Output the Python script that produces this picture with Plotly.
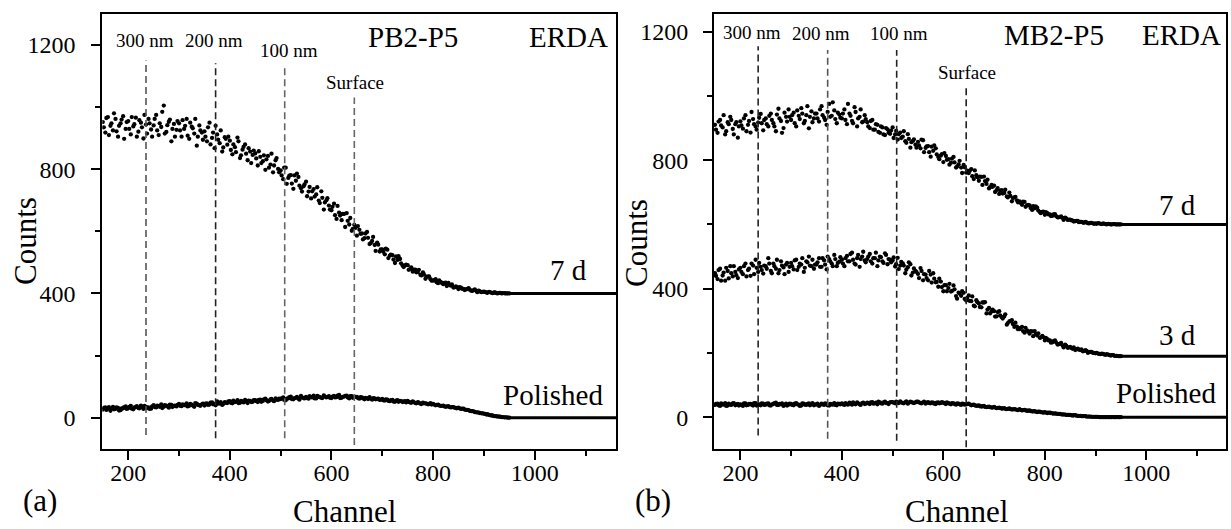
import plotly.graph_objects as go

# ---------------- data ----------------
CHANNEL = list(range(150, 951, 5))          # channels, first scan of samples
CHANNEL_2 = list(range(152, 950, 5))        # channels, second scan of samples
TAIL_A = [950, 1160]                        # flat tail, panel (a)
TAIL_B = [950, 1157]                        # flat tail, panel (b)
X_TICKS = [200, 400, 600, 800, 1000]
Y_TICKS = [0, 400, 800, 1200]

A_7D = [952, 918, 968, 940, 925, 962, 905, 948, 971, 930,
        955, 912, 938, 966, 921, 950, 899, 944, 962, 928,
        941, 975, 910, 936, 1005, 920, 953, 890, 946, 927,
        948, 905, 930, 962, 898, 937, 915, 876, 941, 918,
        922, 890, 950, 901, 868, 912, 884, 857, 903, 879,
        892, 848, 871, 902, 836, 863, 880, 829, 857, 846,
        851, 812, 840, 826, 798, 843, 815, 790, 829, 801,
        796, 768, 805, 772, 781, 737, 763, 775, 739, 745,
        760, 728, 706, 736, 719, 699, 729, 670, 700, 683,
        668, 689, 640, 660, 636, 656, 659, 622, 602, 621,
        586, 605, 593, 578, 598, 559, 569, 556, 564, 535,
        542, 526, 541, 522, 523, 498, 508, 511, 490, 490,
        491, 479, 470, 477, 469, 460, 468, 447, 454, 446,
        441, 446, 433, 437, 430, 435, 434, 425, 419, 423,
        414, 419, 415, 413, 417, 409, 411, 409, 409, 404,
        406, 403, 405, 402, 403, 401, 402, 400, 401, 400, 400]
A_7D_2 = [935, 965, 910, 948, 980, 922, 940, 960, 898, 952,
          930, 968, 945, 905, 958, 935, 975, 915, 948, 905,
          962, 925, 948, 985, 915, 942, 960, 930, 905, 955,
          925, 958, 940, 908, 950, 932, 962, 905, 925, 895,
          905, 935, 880, 918, 940, 895, 925, 870, 898, 905,
          862, 880, 855, 890, 845, 872, 850, 868, 820, 860,
          835, 858, 820, 845, 832, 805, 850, 812, 836, 790,
          780, 805, 753, 779, 754, 780, 786, 747, 728, 751,
          713, 743, 729, 712, 742, 691, 708, 693, 707, 670,
          679, 652, 682, 651, 656, 614, 634, 643, 608, 611,
          617, 592, 574, 593, 579, 562, 582, 537, 557, 542,
          534, 544, 514, 525, 509, 519, 520, 497, 485, 493,
          476, 484, 477, 468, 476, 458, 461, 454, 455, 441,
          443, 436, 442, 434, 434, 424, 428, 429, 420, 420,
          420, 415, 411, 415, 412, 408, 413, 404, 407, 405,
          405, 402, 404, 401, 403, 400, 402, 401, 400, 400]
A_7D_TAIL = [400, 400]

A_POL = [26, 33, 29, 22, 35, 28, 31, 24, 30, 36,
         30, 38, 27, 34, 31, 39, 28, 35, 33, 29,
         40, 33, 37, 43, 35, 39, 32, 41, 38, 36,
         44, 37, 41, 46, 38, 42, 35, 45, 40, 43,
         39, 46, 42, 49, 44, 52, 45, 41, 50, 47,
         53, 46, 50, 56, 48, 52, 57, 47, 54, 51,
         56, 50, 58, 54, 61, 52, 59, 55, 62, 57,
         60, 65, 56, 62, 68, 59, 64, 61, 70, 63,
         67, 61, 66, 71, 62, 68, 64, 72, 65, 69,
         63, 70, 66, 73, 64, 68, 71, 62, 69, 66,
         67, 61, 65, 59, 63, 66, 58, 62, 60, 57,
         60, 55, 58, 53, 57, 51, 56, 54, 50, 53,
         54, 49, 52, 47, 50, 45, 48, 46, 43, 47,
         44, 40, 42, 38, 39, 35, 37, 33, 34, 31,
         32, 28, 29, 25, 24, 21, 20, 17, 16, 14,
         13, 10, 9, 7, 5, 4, 3, 2, 1, 1, 0]
A_POL_2 = [31, 25, 34, 29, 27, 33, 23, 30, 34, 28,
           35, 29, 33, 37, 30, 34, 38, 31, 28, 36,
           34, 39, 35, 31, 40, 36, 42, 34, 39, 41,
           38, 43, 40, 36, 44, 39, 47, 41, 38, 45,
           45, 41, 48, 43, 40, 46, 50, 44, 48, 52,
           48, 55, 51, 47, 54, 49, 52, 55, 50, 56,
           53, 57, 51, 59, 56, 54, 60, 53, 58, 61,
           62, 57, 61, 66, 60, 63, 67, 58, 65, 62,
           63, 69, 65, 62, 70, 66, 63, 68, 67, 64,
           68, 65, 71, 63, 67, 70, 65, 69, 64, 67,
           63, 66, 62, 64, 60, 61, 63, 59, 61, 58,
           56, 59, 54, 56, 52, 55, 51, 53, 52, 49,
           51, 48, 50, 46, 48, 44, 46, 45, 44, 42,
           42, 41, 39, 38, 36, 36, 34, 34, 32, 30,
           30, 29, 26, 25, 22, 21, 18, 17, 15, 14,
           12, 11, 8, 7, 5, 4, 3, 2, 1, 0]
A_POL_TAIL = [0, 0]

B_7D = [910, 885, 925, 902, 880, 918, 935, 897, 912, 870,
        921, 898, 940, 910, 886, 928, 905, 917, 944, 893,
        930, 905, 945, 915, 890, 960, 922, 900, 935, 958,
        925, 948, 905, 938, 962, 915, 940, 899, 952, 930,
        945, 920, 968, 932, 910, 975, 938, 955, 915, 942,
        930, 958, 912, 945, 922, 965, 905, 935, 918, 940,
        918, 900, 925, 895, 910, 885, 902, 878, 896, 882,
        902, 880, 864, 886, 873, 859, 881, 839, 860, 848,
        857, 837, 862, 838, 844, 811, 829, 837, 810, 814,
        794, 813, 803, 792, 810, 777, 787, 777, 785, 761,
        760, 772, 741, 753, 736, 748, 749, 726, 712, 723,
        721, 707, 695, 707, 698, 687, 699, 672, 684, 675,
        672, 661, 670, 659, 659, 645, 650, 652, 639, 639,
        630, 635, 631, 627, 632, 622, 623, 620, 621, 614,
        615, 612, 610, 611, 608, 606, 608, 604, 605, 603,
        603, 604, 602, 603, 601, 602, 600, 601, 600, 600, 600]
B_7D_2 = [895, 920, 908, 940, 890, 912, 925, 880, 918, 905,
          908, 930, 890, 922, 950, 912, 895, 932, 915, 925,
          912, 938, 925, 905, 942, 930, 885, 948, 920, 935,
          940, 915, 955, 928, 945, 922, 968, 935, 918, 945,
          930, 958, 940, 925, 950, 935, 980, 928, 948, 932,
          945, 925, 975, 938, 915, 950, 930, 958, 920, 928,
          905, 922, 895, 912, 888, 905, 880, 900, 885, 892,
          869, 891, 881, 869, 890, 854, 866, 856, 865, 839,
          846, 864, 825, 843, 825, 842, 846, 818, 803, 819,
          822, 801, 786, 805, 793, 780, 798, 760, 778, 767,
          767, 750, 768, 747, 749, 723, 735, 739, 716, 717,
          701, 713, 705, 696, 708, 684, 689, 682, 686, 669,
          667, 671, 655, 661, 651, 657, 656, 643, 635, 640,
          638, 631, 626, 631, 626, 622, 625, 614, 619, 615,
          613, 609, 611, 607, 608, 605, 606, 603, 605, 602,
          602, 603, 601, 602, 600, 601, 600, 601, 600, 600]
B_7D_TAIL = [600, 600]

B_3D = [448, 430, 462, 441, 425, 455, 470, 438, 452, 433,
        465, 445, 478, 458, 440, 472, 490, 452, 468, 447,
        470, 495, 455, 478, 462, 448, 485, 466, 475, 452,
        480, 460, 490, 468, 475, 452, 485, 500, 470, 462,
        475, 495, 468, 488, 460, 492, 478, 505, 470, 484,
        490, 470, 502, 485, 512, 478, 495, 468, 500, 488,
        492, 508, 478, 495, 470, 500, 485, 510, 476, 490,
        488, 469, 496, 472, 479, 448, 467, 476, 450, 455,
        446, 464, 426, 444, 426, 444, 448, 420, 406, 422,
        392, 411, 402, 391, 410, 377, 388, 378, 387, 363,
        379, 361, 347, 364, 354, 342, 357, 323, 340, 329,
        330, 314, 330, 311, 313, 288, 298, 302, 281, 282,
        274, 281, 263, 270, 260, 267, 268, 254, 247, 253,
        239, 243, 239, 233, 239, 226, 228, 223, 226, 216,
        219, 213, 209, 213, 209, 205, 209, 200, 203, 200,
        199, 198, 196, 197, 194, 195, 192, 193, 191, 190, 190]
B_3D_2 = [440, 458, 425, 450, 465, 432, 448, 470, 442, 460,
          452, 470, 438, 462, 478, 445, 465, 480, 458, 472,
          462, 478, 448, 470, 490, 458, 472, 445, 480, 468,
          470, 488, 458, 478, 495, 465, 482, 472, 490, 475,
          482, 468, 495, 475, 500, 485, 470, 492, 480, 498,
          478, 495, 485, 508, 490, 475, 505, 492, 515, 482,
          500, 485, 495, 512, 488, 498, 480, 505, 492, 482,
          497, 476, 461, 483, 472, 459, 482, 441, 463, 452,
          433, 455, 445, 433, 455, 419, 431, 421, 431, 405,
          411, 392, 415, 393, 398, 369, 385, 392, 368, 371,
          362, 376, 345, 358, 343, 357, 358, 335, 323, 335,
          313, 327, 317, 307, 320, 293, 299, 290, 294, 274,
          278, 268, 278, 266, 268, 252, 259, 261, 248, 249,
          247, 239, 232, 237, 233, 227, 231, 217, 223, 217,
          215, 217, 212, 210, 211, 206, 206, 203, 203, 200,
          200, 197, 198, 195, 196, 193, 193, 191, 191, 190]
B_3D_TAIL = [190, 190]

B_POL = [38, 42, 35, 40, 44, 36, 39, 43, 37, 41,
         40, 35, 43, 38, 41, 36, 44, 39, 37, 42,
         39, 43, 36, 41, 45, 38, 40, 35, 42, 39,
         41, 37, 44, 39, 36, 42, 38, 43, 40, 37,
         39, 35, 42, 38, 41, 36, 40, 44, 37, 41,
         43, 38, 41, 45, 39, 42, 46, 40, 44, 41,
         45, 41, 47, 43, 40, 46, 42, 48, 44, 46,
         47, 43, 46, 49, 44, 47, 42, 48, 45, 46,
         48, 44, 46, 42, 47, 43, 45, 41, 46, 44,
         45, 41, 44, 40, 43, 39, 42, 38, 41, 40,
         42, 37, 39, 35, 37, 33, 35, 31, 33, 30,
         32, 28, 30, 27, 28, 25, 27, 24, 25, 23,
         25, 21, 23, 20, 21, 18, 19, 16, 17, 15,
         16, 13, 14, 12, 12, 10, 10, 8, 8, 7,
         7, 5, 6, 4, 4, 3, 3, 2, 2, 1,
         1, 1, 0, 0, 0, 0, 0, 0, 0, 0, 0]
B_POL_2 = [41, 37, 43, 39, 35, 42, 38, 44, 40, 36,
           38, 43, 37, 41, 39, 44, 36, 40, 43, 38,
           42, 37, 40, 44, 38, 41, 43, 39, 36, 42,
           38, 42, 40, 35, 43, 39, 41, 37, 44, 40,
           42, 38, 40, 43, 37, 41, 39, 38, 42, 40,
           40, 44, 39, 42, 46, 40, 43, 38, 45, 42,
           43, 46, 42, 45, 48, 43, 46, 44, 41, 47,
           45, 48, 44, 46, 43, 49, 45, 47, 44, 48,
           46, 43, 48, 45, 44, 46, 42, 45, 43, 47,
           43, 46, 42, 44, 41, 43, 40, 42, 39, 41,
           40, 38, 37, 36, 34, 34, 32, 32, 31, 30,
           30, 29, 28, 27, 26, 26, 25, 24, 24, 22,
           23, 22, 21, 20, 19, 18, 17, 17, 16, 14,
           14, 14, 13, 11, 11, 10, 9, 9, 7, 7,
           6, 6, 5, 4, 3, 3, 2, 2, 1, 1,
           1, 0, 0, 0, 0, 0, 0, 0, 0, 0]
B_POL_TAIL = [0, 0]

DEPTH_CH = [235, 372, 508, 645]
DEPTH_TOP_A = [1150, 1141, 1136, 1031]
DEPTH_BOT_A = [-56, -66, -66, -88]
DEPTH_TOP_B = [1155, 1143, 1143, 1031]
DEPTH_BOT_B = [-57, -67, -73, -94]
DEPTH_COL_A = ["#555555", "#222222", "#666666", "#666666"]
DEPTH_COL_B = ["#222222", "#555555", "#222222", "#222222"]

W, H = 1231, 529
FONT = "Liberation Serif, Times New Roman, serif"

fig = go.Figure()

def dots(x, y, xa, ya):
    fig.add_trace(go.Scatter(x=x, y=y, mode="markers", xaxis=xa, yaxis=ya,
                             marker=dict(color="black", size=4.3, symbol="circle"),
                             showlegend=False, hoverinfo="skip"))

def flat(x, y, xa, ya):
    fig.add_trace(go.Scatter(x=x, y=y, mode="lines", xaxis=xa, yaxis=ya,
                             line=dict(color="black", width=3),
                             showlegend=False, hoverinfo="skip"))

for ys, ys2, tail in [(A_7D, A_7D_2, A_7D_TAIL), (A_POL, A_POL_2, A_POL_TAIL)]:
    dots(CHANNEL, ys, "x", "y"); dots(CHANNEL_2, ys2, "x", "y"); flat(TAIL_A, tail, "x", "y")
for ys, ys2, tail in [(B_7D, B_7D_2, B_7D_TAIL), (B_3D, B_3D_2, B_3D_TAIL), (B_POL, B_POL_2, B_POL_TAIL)]:
    dots(CHANNEL, ys, "x2", "y2"); dots(CHANNEL_2, ys2, "x2", "y2"); flat(TAIL_B, tail, "x2", "y2")

shapes = []
for ch, t, b, c in zip(DEPTH_CH, DEPTH_TOP_A, DEPTH_BOT_A, DEPTH_COL_A):
    shapes.append(dict(type="line", xref="x", yref="y", x0=ch, x1=ch, y0=b, y1=t,
                       line=dict(color=c, width=1.6, dash="7px,4px")))
for ch, t, b, c in zip(DEPTH_CH, DEPTH_TOP_B, DEPTH_BOT_B, DEPTH_COL_B):
    shapes.append(dict(type="line", xref="x2", yref="y2", x0=ch, x1=ch, y0=b, y1=t,
                       line=dict(color=c, width=1.6, dash="7px,4px")))

def ann(text, px, py, size, yanchor="middle"):
    return dict(text=text, x=px / W, y=1 - py / H, xref="paper", yref="paper",
                xanchor="center", yanchor=yanchor, showarrow=False,
                font=dict(family=FONT, size=size, color="black"))

annotations = [
    # panel (a)
    ann("300 nm", 145, 40, 19), ann("200 nm", 214, 40, 19),
    ann("100 nm", 289, 50, 19), ann("Surface", 355, 83, 19),
    ann("PB2-P5", 413, 37, 29), ann("ERDA", 568, 37, 29),
    ann("7 d", 568, 270, 29), ann("Polished", 553, 395, 29),
    ann("Counts", 25, 241, 31), ann("Channel", 344, 531, 31, "bottom"),
    ann("(a)", 40, 500, 31),
    # panel (b)
    ann("300 nm", 752, 32, 19), ann("200 nm", 821, 33, 19),
    ann("100 nm", 899, 33, 19), ann("Surface", 967, 73, 19),
    ann("MB2-P5", 1054, 35, 29), ann("ERDA", 1181, 35, 29),
    ann("7 d", 1177, 205, 29), ann("3 d", 1177, 335, 29),
    ann("Polished", 1166, 393, 29),
    ann("Counts", 637, 243, 31), ann("Channel", 956, 531, 31, "bottom"),
    ann("(b)", 653, 500, 31),
]
for a in annotations:
    if a["text"] == "Counts":
        a["textangle"] = -90

TICKFONT = dict(family=FONT, size=24, color="black")
axis_common = dict(showgrid=False, zeroline=False, showline=True, mirror=True,
                   linecolor="black", linewidth=2, ticks="outside", ticklen=9,
                   tickwidth=2, tickcolor="black", tickfont=TICKFONT)
xminor = dict(dtick=100, tick0=0, ticks="outside", ticklen=5, tickwidth=2, tickcolor="black")
yminor = dict(dtick=200, tick0=0, ticks="outside", ticklen=5, tickwidth=2, tickcolor="black")

fig.update_layout(
    width=W, height=H, margin=dict(l=0, r=0, t=0, b=0),
    font=dict(family=FONT, size=24, color="black"),
    paper_bgcolor="white", plot_bgcolor="white", showlegend=False,
    xaxis=dict(domain=[102.3 / W, 616 / W], range=[149, 1160], tickvals=X_TICKS,
               minor=xminor, anchor="y", ticklabelstandoff=-8, **axis_common),
    yaxis=dict(domain=[1 - 448.7 / H, 1 - 14 / H], range=[-100, 1300], tickvals=Y_TICKS,
               minor=yminor, anchor="x", ticklabelstandoff=11, **axis_common),
    xaxis2=dict(domain=[714 / W, 1226 / W], range=[148, 1157], tickvals=X_TICKS,
                minor=xminor, anchor="y2", ticklabelstandoff=-8, **axis_common),
    yaxis2=dict(domain=[1 - 449.3 / H, 1 - 14 / H], range=[-100, 1255], tickvals=Y_TICKS,
                minor=yminor, anchor="x2", ticklabelstandoff=10, **axis_common),
    shapes=shapes, annotations=annotations,
)

fig.write_html("out.html")
